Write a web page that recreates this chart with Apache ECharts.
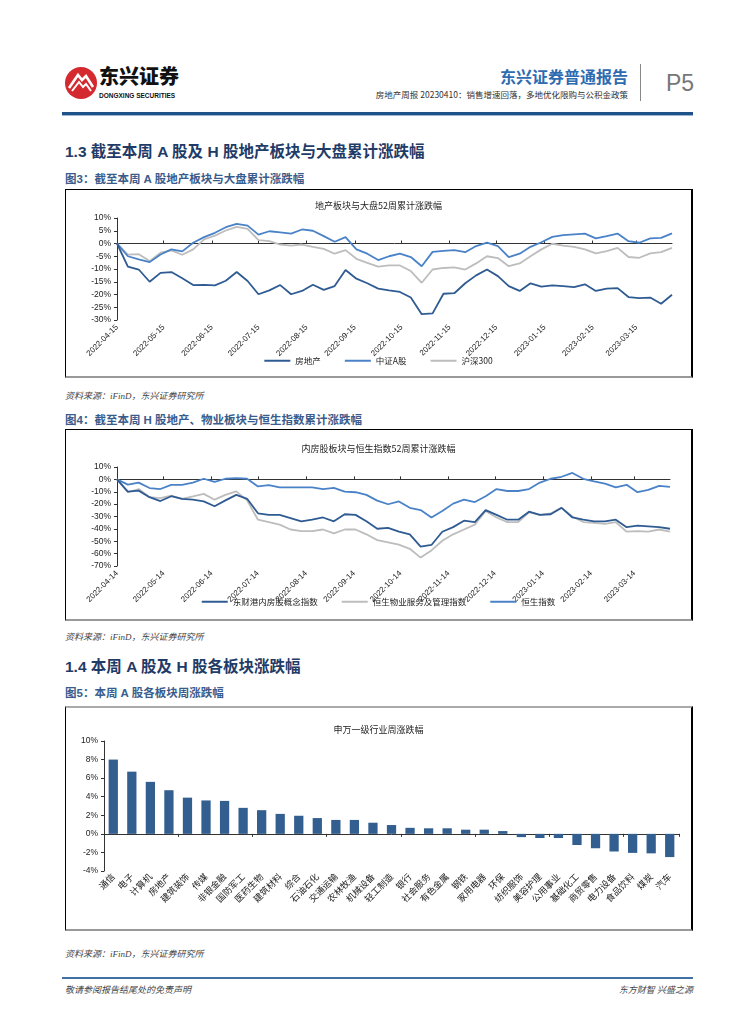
<!DOCTYPE html>
<html><head><meta charset="utf-8">
<script src="https://cdn.jsdelivr.net/npm/echarts@6/dist/echarts.min.js"></script>
<style>
html,body{margin:0;padding:0;background:#fff;}
body{width:755px;height:1024px;position:relative;overflow:hidden;font-family:"Liberation Sans","Noto Sans CJK SC",sans-serif;}
.abs{position:absolute;white-space:nowrap;}
.cn{font-family:"Noto Sans CJK SC",sans-serif;}
.sec{font-size:15.5px;font-weight:bold;color:#1F3B67;font-family:"Liberation Sans","Noto Sans CJK SC",sans-serif;}
.fig{font-size:11.5px;font-weight:bold;color:#3A5C8C;font-family:"Liberation Sans","Noto Sans CJK SC",sans-serif;}
.src{font-size:9px;color:#444;font-style:italic;font-family:"Liberation Serif","Noto Sans CJK SC",serif;}
.box{position:absolute;border:1px solid #000;border-right:2px solid #000;border-bottom:2px solid #999;box-sizing:border-box;}
</style></head>
<body>
<!-- header -->
<svg class="abs" style="left:64px;top:66px" width="34" height="34" viewBox="0 0 34 34">
  <circle cx="17" cy="17" r="16" fill="#D42A2F"/>
  <path d="M5 22 L14 9 L18 14 L22 10 L29 21" stroke="#fff" stroke-width="2.6" fill="none"/>
  <path d="M8 25 L15 16 L19 21 L22 18 L27 25" stroke="#fff" stroke-width="2" fill="none"/>
</svg>
<div class="abs cn" style="left:99px;top:63px;font-size:20px;line-height:26px;font-weight:900;color:#111;">东兴证券</div>
<div class="abs" style="left:99px;top:92px;font-size:6.5px;line-height:8px;font-weight:bold;color:#111;">DONGXING SECURITIES</div>
<div class="abs cn" style="right:127px;top:66px;font-size:16px;line-height:20px;font-weight:bold;color:#2E6BB0;">东兴证券普通报告</div>
<div class="abs cn" style="right:127px;top:89px;font-size:8.5px;line-height:11px;color:#333;">房地产周报 20230410：销售增速回落，多地优化限购与公积金政策</div>
<div class="abs" style="left:640px;top:64px;width:1px;height:37px;background:#888"></div>
<div class="abs" style="left:666px;top:70px;font-size:23px;color:#777;">P5</div>
<div class="abs" style="left:62px;top:112px;width:631px;height:3px;background:#1F5287"></div>
<div class="abs" style="left:62px;top:115px;width:631px;height:1px;background:#9DB6D3"></div>

<!-- section 1.3 -->
<div class="abs sec" style="left:65px;top:139px;">1.3 截至本周 A 股及 H 股地产板块与大盘累计涨跌幅</div>
<div class="abs fig" style="left:65px;top:170px;">图3：截至本周 A 股地产板块与大盘累计涨跌幅</div>
<div class="box" style="left:65px;top:189px;width:628px;height:189px;"><div id="c1" style="width:625px;height:186px"></div></div>
<div class="abs src" style="left:65px;top:389px;">资料来源：iFinD，东兴证券研究所</div>

<div class="abs fig" style="left:65px;top:411px;">图4：截至本周 H 股地产、物业板块与恒生指数累计涨跌幅</div>
<div class="box" style="left:65px;top:429px;width:628px;height:192px;"><div id="c2" style="width:625px;height:189px"></div></div>
<div class="abs src" style="left:65px;top:630px;">资料来源：iFinD，东兴证券研究所</div>

<div class="abs sec" style="left:65px;top:654px;">1.4 本周 A 股及 H 股各板块涨跌幅</div>
<div class="abs fig" style="left:65px;top:684px;">图5：本周 A 股各板块周涨跌幅</div>
<div class="box" style="left:65px;top:706px;width:628px;height:225px;border-top:2px solid #aaa;"><div id="c3" style="width:625px;height:221px"></div></div>
<div class="abs src" style="left:65px;top:947px;">资料来源：iFinD，东兴证券研究所</div>

<!-- footer -->
<div class="abs" style="left:62px;top:977px;width:631px;height:2px;background:#3F70A8"></div>
<div class="abs src" style="left:65px;top:983px;">敬请参阅报告结尾处的免责声明</div>
<div class="abs src" style="right:62px;top:983px;">东方财智 兴盛之源</div>

<script>
// ---------- Chart 1 data ----------
const dates1 = ['2022-04-15','2022-04-22','2022-04-29','2022-05-06','2022-05-13','2022-05-20','2022-05-27','2022-06-03','2022-06-10','2022-06-17','2022-06-24','2022-07-01','2022-07-08','2022-07-15','2022-07-22','2022-07-29','2022-08-05','2022-08-12','2022-08-19','2022-08-26','2022-09-02','2022-09-09','2022-09-16','2022-09-23','2022-09-30','2022-10-07','2022-10-14','2022-10-21','2022-10-28','2022-11-04','2022-11-11','2022-11-18','2022-11-25','2022-12-02','2022-12-09','2022-12-16','2022-12-23','2022-12-30','2023-01-06','2023-01-13','2023-01-20','2023-01-27','2023-02-03','2023-02-10','2023-02-17','2023-02-24','2023-03-03','2023-03-10','2023-03-17','2023-03-24','2023-03-31','2023-04-07'];
const realEstateA = [0,-9.1,-10.2,-15.0,-11.5,-11.2,-13.6,-16.3,-16.2,-16.4,-14.6,-11.2,-14.7,-19.9,-18.4,-16.3,-19.9,-18.6,-16.2,-18.2,-16.7,-10.4,-13.8,-15.6,-17.7,-18.4,-19.0,-21.2,-27.7,-27.4,-19.7,-19.5,-15.6,-12.5,-10.2,-12.8,-16.7,-18.6,-15.6,-16.9,-16.4,-16.7,-17.1,-16.0,-18.6,-17.7,-17.5,-21.0,-21.4,-21.2,-23.6,-20.1];
const csiAShare = [0,-5.0,-6.2,-7.3,-4.3,-2.3,-3.1,0.3,2.5,4.2,6.4,7.7,7.0,3.5,4.8,4.4,3.9,5.5,5.0,2.9,0.7,2.5,-2.3,-4.0,-6.5,-5.0,-4.0,-5.3,-8.9,-3.3,-2.9,-2.6,-3.4,-1.0,0.3,-1.0,-5.3,-4.0,-1.3,0.5,2.6,3.3,3.6,3.9,2.0,2.9,3.9,0.9,0.3,2.0,2.2,4.0];
const hs300 = [0,-4.4,-4.2,-6.9,-3.6,-2.7,-4.4,-2.3,1.6,3.1,5.1,6.5,5.7,1.3,0.9,-0.4,-0.8,-0.4,-1.3,-2.1,-4.0,-2.6,-6.0,-7.6,-9.1,-8.6,-8.6,-10.8,-15.4,-10.2,-9.6,-9.4,-10.2,-7.8,-5.0,-5.7,-8.9,-7.8,-5.0,-2.3,-0.1,-0.8,-1.3,-2.3,-3.9,-3.0,-1.7,-5.3,-5.6,-3.9,-3.4,-1.7];
const ticks1 = ['2022-04-15','2022-05-15','2022-06-15','2022-07-15','2022-08-15','2022-09-15','2022-10-15','2022-11-15','2022-12-15','2023-01-15','2023-02-15','2023-03-15'];
const names1 = ['房地产','中证A股','沪深300'];

// ---------- Chart 2 data ----------
const dates2 = ['2022-04-14','2022-04-21','2022-04-28','2022-05-05','2022-05-12','2022-05-19','2022-05-26','2022-06-02','2022-06-09','2022-06-16','2022-06-23','2022-06-30','2022-07-07','2022-07-14','2022-07-21','2022-07-28','2022-08-04','2022-08-11','2022-08-18','2022-08-25','2022-09-01','2022-09-08','2022-09-15','2022-09-22','2022-09-29','2022-10-06','2022-10-13','2022-10-20','2022-10-27','2022-11-03','2022-11-10','2022-11-17','2022-11-24','2022-12-01','2022-12-08','2022-12-15','2022-12-22','2022-12-29','2023-01-05','2023-01-12','2023-01-19','2023-01-26','2023-02-02','2023-02-09','2023-02-16','2023-02-23','2023-03-02','2023-03-09','2023-03-16','2023-03-23','2023-03-30','2023-04-06'];
const hkRealEstate = [0,-9.9,-9.1,-14.4,-17.5,-13.6,-15.7,-16.4,-17.8,-21.7,-17.0,-12.5,-15.7,-27.4,-28.7,-28.7,-31.3,-33.9,-32.6,-30.8,-33.9,-28.2,-28.7,-33.9,-39.9,-39.2,-42.3,-44.4,-54.3,-53.0,-42.3,-38.6,-33.4,-34.5,-24.8,-28.7,-32.6,-32.6,-26.1,-28.7,-28.2,-23.0,-30.8,-32.6,-33.9,-33.9,-32.6,-38.6,-37.3,-37.9,-38.6,-39.9];
const hsProperty = [0,-10.4,-7.8,-14.4,-15.1,-13.1,-15.7,-13.8,-11.7,-16.4,-12.5,-9.7,-17.0,-32.6,-34.5,-36.6,-40.5,-41.8,-41.8,-40.5,-43.6,-40.5,-40.5,-44.4,-49.1,-50.9,-52.7,-56.1,-63.2,-57.4,-49.6,-44.4,-40.5,-36.6,-25.6,-30.8,-34.5,-34.5,-26.6,-28.7,-27.4,-23.0,-30.0,-34.5,-35.2,-36.0,-34.5,-42.3,-41.8,-42.3,-40.5,-42.3];
const hsi = [0,-4.2,-2.6,-7.0,-7.8,-4.4,-4.4,-2.6,0.5,-2.1,0.5,1.0,0.5,-5.7,-4.7,-6.5,-6.5,-6.5,-6.5,-7.8,-6.8,-9.9,-10.4,-12.5,-17.2,-20.1,-17.8,-23.0,-24.8,-30.8,-25.6,-19.6,-16.4,-18.3,-13.6,-7.8,-9.4,-9.4,-7.8,-2.6,0.5,2.1,5.2,0.5,-1.6,-3.4,-6.5,-4.4,-10.4,-8.5,-5.2,-6.0];
const ticks2 = ['2022-04-14','2022-05-14','2022-06-14','2022-07-14','2022-08-14','2022-09-14','2022-10-14','2022-11-14','2022-12-14','2023-01-14','2023-02-14','2023-03-14'];
const names2 = ['东财港内房股概念指数','恒生物业服务及管理指数','恒生指数'];

// ---------- Chart 3 data ----------
const industries = ['通信','电子','计算机','房地产','建筑装饰','传媒','非银金融','国防军工','医药生物','建筑材料','综合','石油石化','交通运输','农林牧渔','机械设备','轻工制造','银行','社会服务','有色金属','钢铁','家用电器','环保','纺织服饰','美容护理','公用事业','基础化工','商贸零售','电力设备','食品饮料','煤炭','汽车'];
const weeklyChange = [8.0,6.7,5.6,4.7,3.9,3.6,3.55,2.8,2.55,2.15,1.95,1.7,1.5,1.5,1.2,0.95,0.65,0.6,0.6,0.45,0.45,0.3,-0.35,-0.45,-0.45,-1.2,-1.55,-1.9,-2.05,-2.1,-2.5];

// ---------- helpers ----------
const C_DARK = '#2F5B93', C_MID = '#4A82C8', C_GRAY = '#BDBDBD';
const LBL = {fontFamily:'Liberation Sans, Noto Sans CJK SC, sans-serif', color:'#222'};
function ts(s){const p=s.split('-').map(Number);return new Date(p[0],p[1]-1,p[2]).getTime();}
function fmt(v){const d=new Date(Math.round(v));const m=d.getMonth()+1,dd=d.getDate();return d.getFullYear()+'-'+(m<10?'0':'')+m+'-'+(dd<10?'0':'')+dd;}
function pairs(dates,vals){return dates.map((d,i)=>[ts(d),vals[i]]);}

function lineChart(el, dates, seriesVals, names, colors, ticks, yMin, yMax, yInt, grid, title){
  const c = echarts.init(document.getElementById(el), null, {renderer:'canvas'});
  const tickTs = ticks.map(ts);
  const xmin = ts(dates[0]), xmax = ts(dates[dates.length-1]);
  c.setOption({
    animation:false,
    title:{text:title,left:'center',top:grid.titleTop,textStyle:{fontSize:9,fontWeight:'normal',color:'#222',fontFamily:'Noto Sans CJK SC'}},
    legend:{bottom:grid.legendBottom,left:'center',icon:'rect',itemWidth:26,itemHeight:2,itemGap:24,
      textStyle:{fontSize:8.5,color:'#222',fontFamily:'Noto Sans CJK SC'},data:names},
    grid:{left:grid.left,right:grid.right,top:grid.top,bottom:grid.bottom,containLabel:false},
    xAxis:[
      {type:'value',min:xmin,max:xmax,position:'bottom',
       axisLine:{onZero:true,lineStyle:{color:'#333',width:1}},
       axisTick:{show:true,inside:true,length:3,customValues:tickTs,lineStyle:{color:'#333'}},
       axisLabel:{show:false},splitLine:{show:false}},
      {type:'value',min:xmin,max:xmax,position:'bottom',
       axisLine:{show:false,onZero:false},axisTick:{show:false},splitLine:{show:false},
       axisLabel:Object.assign({show:true,customValues:tickTs,rotate:45,fontSize:8,margin:6,formatter:fmt,hideOverlap:false,showMinLabel:true,showMaxLabel:true},LBL)}
    ],
    yAxis:{type:'value',min:yMin,max:yMax,interval:yInt,
      axisLine:{show:true,lineStyle:{color:'#333'}},axisTick:{show:true,length:3,lineStyle:{color:'#333'}},
      splitLine:{show:false},axisLabel:Object.assign({fontSize:8.5,formatter:'{value}%',margin:6},LBL)},
    series:seriesVals.map((v,i)=>({type:'line',name:names[i],xAxisIndex:0,data:pairs(dates,v),symbol:'none',
      lineStyle:{color:colors[i],width:1.8},itemStyle:{color:colors[i]},z:10-i}))
  });
}

try{
lineChart('c1', dates1, [realEstateA, csiAShare, hs300], names1, [C_DARK, C_MID, C_GRAY], ticks1,
  -30, 10, 5, {left:51,right:19,top:28,bottom:56,titleTop:6,legendBottom:6}, '地产板块与大盘52周累计涨跌幅');
}catch(e){console.error(e);}
try{
lineChart('c2', dates2, [hkRealEstate, hsProperty, hsi], names2, [C_DARK, C_GRAY, C_MID], ticks2,
  -70, 10, 10, {left:51,right:21,top:37,bottom:53,titleTop:9,legendBottom:8}, '内房股板块与恒生指数52周累计涨跌幅');
}catch(e){console.error(e);}

// bar chart
try{
(function(){
  const c = echarts.init(document.getElementById('c3'), null, {renderer:'canvas'});
  c.setOption({
    animation:false,
    title:{text:'申万一级行业周涨跌幅',left:'center',top:12,textStyle:{fontSize:9,fontWeight:'normal',color:'#222',fontFamily:'Noto Sans CJK SC'}},
    grid:{left:38,right:12,top:33,bottom:58,containLabel:false},
    xAxis:[
      {type:'category',data:industries,position:'bottom',
       axisLine:{onZero:true,lineStyle:{color:'#333'}},
       axisTick:{show:true,length:3,alignWithLabel:false,lineStyle:{color:'#333'}},
       axisLabel:{show:false}},
      {type:'category',data:industries,position:'bottom',
       axisLine:{show:false,onZero:false},axisTick:{show:false},
       axisLabel:{show:true,interval:0,rotate:45,fontSize:9,margin:4,color:'#222',fontFamily:'Noto Sans CJK SC'}}
    ],
    yAxis:{type:'value',min:-4,max:10,interval:2,
      axisLine:{show:true,lineStyle:{color:'#333'}},axisTick:{show:true,length:3,lineStyle:{color:'#333'}},
      splitLine:{show:false},axisLabel:Object.assign({fontSize:8.5,formatter:'{value}%',margin:6},LBL)},
    series:[{type:'bar',xAxisIndex:0,data:weeklyChange,barWidth:'50%',
      itemStyle:{color:'#335F90'}}]
  });
})();
}catch(e){console.error(e);}
</script>
</body></html>
